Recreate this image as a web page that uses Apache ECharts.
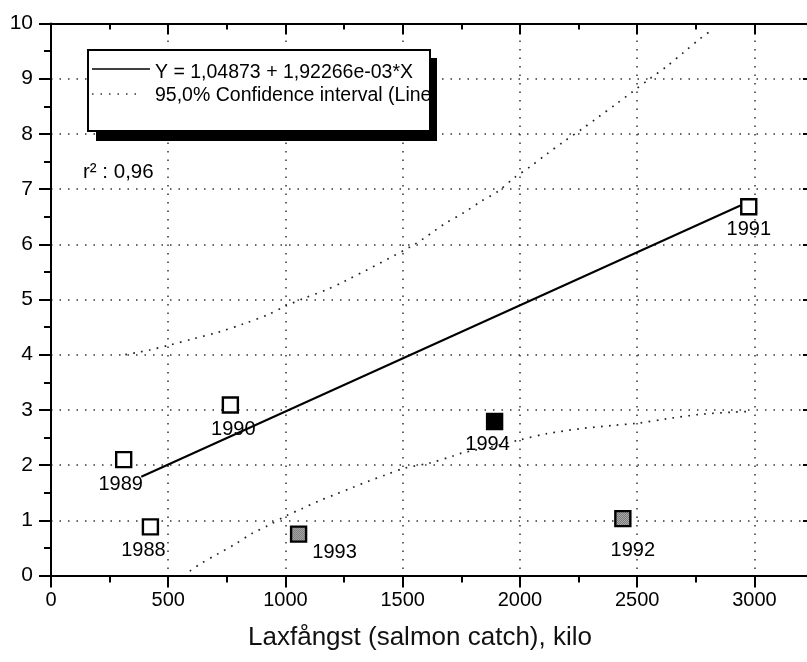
<!DOCTYPE html>
<html>
<head>
<meta charset="utf-8">
<script src="https://cdn.jsdelivr.net/npm/echarts@6/dist/echarts.min.js"></script>
<style>
  html, body { margin: 0; padding: 0; background: #fff; }
  #chart { width: 807px; height: 662px; }
</style>
</head>
<body>
<div id="chart"></div>
<script>
// Salmon catch (kg) against the response variable, one point per year
const years    = ['1988', '1989', '1990', '1991', '1992', '1993', '1994'];
const catchKg  = [424, 310, 765, 2976, 2439, 1056, 1892];
const yValues  = [0.88, 2.10, 3.09, 6.68, 1.03, 0.75, 2.79];
const pointKind = ['open', 'open', 'open', 'open', 'stippled', 'stippled', 'filled'];

// Fitted line Y = 1,04873 + 1,92266e-03*X, drawn between its two end points
const fitLine = [[385, 1.789], [2976, 6.771]];

// 95% confidence band of the fitted line
const upperBand = [
  [317, 4.00], [367, 4.04], [424, 4.09], [502, 4.17], [608, 4.29], [715, 4.41],
  [822, 4.56], [928, 4.73], [1000, 4.88], [1078, 5.02], [1177, 5.18], [1248, 5.32],
  [1547, 5.99], [1682, 6.38], [1760, 6.57], [1831, 6.77], [1910, 6.97], [1974, 7.20],
  [2045, 7.41], [2116, 7.64], [2187, 7.86], [2265, 8.09], [2336, 8.31], [2407, 8.53],
  [2479, 8.76], [2554, 9.00], [2628, 9.23], [2699, 9.48], [2767, 9.72], [2805, 9.84]
];
const lowerBand = [
  [592, 0.08], [637, 0.21], [711, 0.39], [782, 0.56], [857, 0.76], [928, 0.91],
  [1007, 1.09], [1070, 1.21], [1142, 1.35], [1213, 1.47], [1284, 1.59], [1355, 1.71],
  [1426, 1.82], [1504, 1.94], [1618, 2.04], [1718, 2.17], [1753, 2.22], [1888, 2.34],
  [2002, 2.46], [2116, 2.57], [2258, 2.66], [2400, 2.72], [2503, 2.76], [2628, 2.84],
  [2770, 2.92], [2912, 2.96], [2976, 2.97]
];

const legendTexts = ['Y = 1,04873 + 1,92266e-03*X', '95,0% Confidence interval (Line'];
const r2Text = 'r\u00B2 : 0,96';
const xTitle = 'Laxfångst (salmon catch), kilo';

// Where each year label sits relative to its marker centre
const labelOffset = {
  '1988': [-7, 24], '1989': [-3, 25], '1990': [3, 25], '1991': [0, 23],
  '1992': [10, 32], '1993': [36, 18], '1994': [-7, 23]
};

const FONT = "'Liberation Sans', Arial, Helvetica, sans-serif";
const INK = '#000000';
const MARK = 15;

// Stippled fill for the grey markers (scaled back because symbols are drawn at unit size)
function stipple() {
  const c = document.createElement('canvas');
  c.width = 4; c.height = 4;
  const g = c.getContext('2d');
  g.fillStyle = '#3c3c3c';
  g.fillRect(0, 0, 4, 4);
  g.fillStyle = '#e8e8e8';
  [[0,0],[2,0],[1,1],[3,1],[0,2],[2,2],[1,3],[3,3]].forEach(p => g.fillRect(p[0], p[1], 1, 1));
  return { image: c, repeat: 'repeat', scaleX: 2 / MARK, scaleY: 2 / MARK };
}

const markerStyle = {
  open:     { color: '#ffffff', borderColor: INK, borderWidth: 2.4, opacity: 1 },
  stippled: { color: stipple(), borderColor: INK, borderWidth: 2.4, opacity: 1 },
  filled:   { color: INK, borderColor: INK, borderWidth: 2.4, opacity: 1 }
};

function pointsOf(kind) {
  const out = [];
  years.forEach((yr, i) => {
    if (pointKind[i] !== kind) return;
    out.push({ name: yr, value: [catchKg[i], yValues[i]], label: { offset: labelOffset[yr] } });
  });
  return out;
}

const dotted = { type: [1.5, 7], color: '#333', width: 1.5 };
const axisInk = { color: INK, width: 2 };

function xAxisDef(pos, interval, tickLen, inside, withLabels) {
  return {
    type: 'value', position: pos, min: 0, max: 3250, interval: interval,
    axisLine: { show: interval === 500, onZero: false, lineStyle: axisInk },
    axisTick: { show: true, inside: inside, length: tickLen, lineStyle: axisInk },
    axisLabel: withLabels
      ? { show: true, margin: 15, fontSize: 20, color: INK, fontFamily: FONT, showMaxLabel: false, formatter: v => String(v) }
      : { show: false },
    splitLine: withLabels ? { show: true, lineStyle: dotted } : { show: false }
  };
}

const chart = echarts.init(document.getElementById('chart'), null, { renderer: 'canvas' });

chart.setOption({
  backgroundColor: '#ffffff',
  animation: false,
  grid: { left: 51, right: -6, top: 23.5, bottom: 86.5, containLabel: false, outerBoundsMode: 'none' },
  xAxis: [
    xAxisDef('bottom', 500, 12, false, true),
    xAxisDef('bottom', 250, 7, false, false),
    xAxisDef('top', 500, 11, true, false),
    xAxisDef('top', 250, 6, true, false)
  ],
  yAxis: [
    {
      type: 'value', position: 'left', min: 0, max: 10, interval: 1,
      axisLine: { show: true, onZero: false, lineStyle: axisInk },
      axisTick: { show: true, inside: false, length: 12, lineStyle: axisInk },
      minorTick: { show: true, splitNumber: 2, length: 7, lineStyle: axisInk },
      axisLabel: { margin: 18, fontSize: 21, color: INK, fontFamily: FONT },
      splitLine: { show: true, lineStyle: dotted }
    },
    {
      type: 'value', position: 'right', min: 0, max: 10, interval: 1,
      axisLine: { show: true, onZero: false, lineStyle: axisInk },
      axisTick: { show: true, inside: true, length: 10, lineStyle: axisInk },
      minorTick: { show: true, splitNumber: 2, length: 5, lineStyle: axisInk },
      axisLabel: { show: false },
      splitLine: { show: false }
    }
  ],
  series: [
    {
      type: 'line', name: 'upper', data: upperBand, symbol: 'none', smooth: 0.3, silent: true, z: 3,
      lineStyle: { color: '#222', width: 1.7, type: [1.7, 6.3] }
    },
    {
      type: 'line', name: 'lower', data: lowerBand, symbol: 'none', smooth: 0.3, silent: true, z: 3,
      lineStyle: { color: '#222', width: 1.7, type: [1.7, 6.3] }
    },
    {
      type: 'line', name: 'fit', data: fitLine, symbol: 'none', silent: true, z: 4,
      lineStyle: { color: INK, width: 2 }
    }
  ].concat(['open', 'stippled', 'filled'].map(kind => ({
    type: 'scatter', name: kind, data: pointsOf(kind), symbol: 'rect', symbolSize: MARK, z: 6,
    itemStyle: markerStyle[kind],
    label: {
      show: true, position: 'inside', formatter: '{b}', fontSize: 20, fontFamily: FONT,
      color: INK, textBorderWidth: 0, align: 'center', verticalAlign: 'middle'
    }
  }))),
  graphic: [
    { type: 'rect', z: 100, shape: { x: 96, y: 58, width: 341, height: 83 }, style: { fill: INK } },
    { type: 'rect', z: 101, shape: { x: 88, y: 50, width: 342, height: 81 }, style: { fill: '#fff', stroke: INK, lineWidth: 2 } },
    { type: 'line', z: 102, shape: { x1: 92, y1: 69, x2: 150, y2: 69 }, style: { stroke: INK, lineWidth: 1.5 } },
    { type: 'line', z: 102, shape: { x1: 92, y1: 94, x2: 143, y2: 94 }, style: { stroke: '#333', lineWidth: 1.5, lineDash: [1.5, 7] } },
    { type: 'text', z: 102, x: 155, y: 73, style: { text: legendTexts[0], fontSize: 19.5, fontFamily: FONT, fill: INK, verticalAlign: 'middle' } },
    { type: 'text', z: 102, x: 155, y: 96, style: { text: legendTexts[1], fontSize: 19.5, fontFamily: FONT, fill: INK, verticalAlign: 'middle' } },
    { type: 'text', z: 102, x: 83, y: 172, style: { text: r2Text, fontSize: 20.5, fontFamily: FONT, fill: INK, verticalAlign: 'middle' } },
    { type: 'text', z: 102, x: 420, y: 638, style: { text: xTitle, fontSize: 26, fontFamily: FONT, fill: '#111', align: 'center', verticalAlign: 'middle' } }
  ]
});
</script>
</body>
</html>
